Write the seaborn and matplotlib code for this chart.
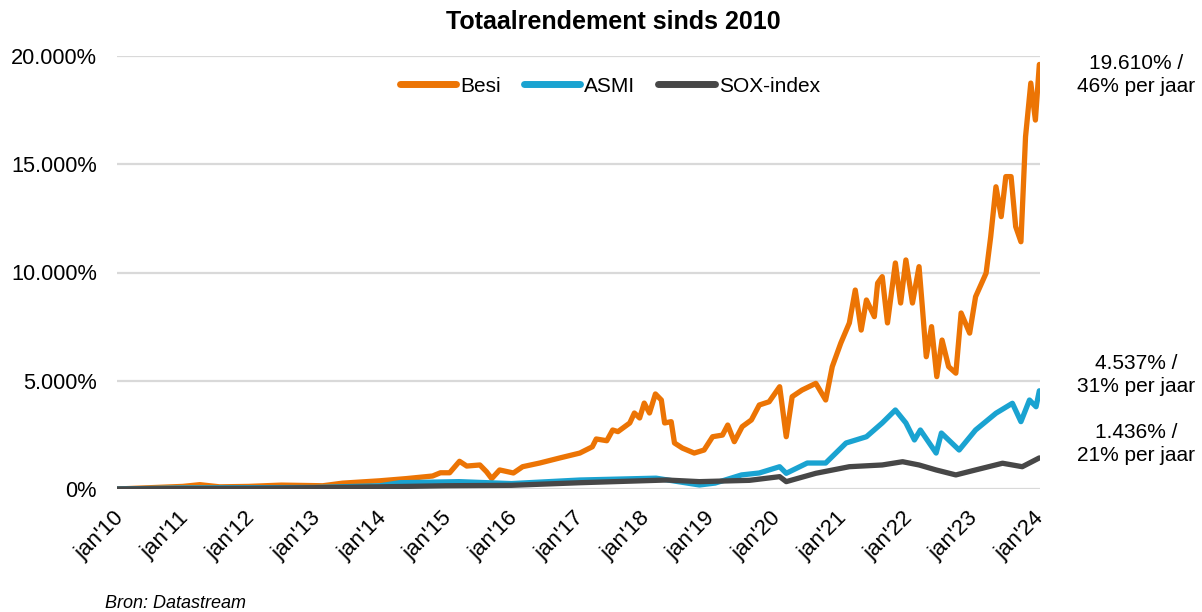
import pandas as pd
import matplotlib.pyplot as plt
import matplotlib.ticker as mticker
import matplotlib.transforms as mtransforms
import seaborn as sns

# Values (decimal year, total return in %)
besi_years = [2010.00, 2010.50, 2011.00, 2011.26, 2011.56, 2012.00, 2012.50, 2013.13, 2013.43, 2014.00,
              2014.40, 2014.80, 2014.92, 2015.06, 2015.21, 2015.32, 2015.52, 2015.62, 2015.70, 2015.82,
              2016.03, 2016.17, 2016.43, 2016.73, 2017.04, 2017.23, 2017.29, 2017.45, 2017.54, 2017.62,
              2017.80, 2017.87, 2017.95, 2018.02, 2018.10, 2018.19, 2018.28, 2018.33, 2018.43, 2018.48,
              2018.60, 2018.78, 2018.93, 2019.06, 2019.21, 2019.29, 2019.39, 2019.51, 2019.65, 2019.77,
              2019.92, 2020.08, 2020.18, 2020.27, 2020.42, 2020.63, 2020.78, 2020.88, 2021.01, 2021.14,
              2021.23, 2021.32, 2021.40, 2021.52, 2021.57, 2021.64, 2021.72, 2021.84, 2021.92, 2022.00,
              2022.10, 2022.20, 2022.25, 2022.31, 2022.39, 2022.47, 2022.55, 2022.65, 2022.76, 2022.84,
              2022.97, 2023.06, 2023.22, 2023.29, 2023.37, 2023.45, 2023.52, 2023.60, 2023.67, 2023.75,
              2023.82, 2023.90, 2023.97, 2024.03]
besi_values = [0, 60, 120, 200, 100, 120, 180, 150, 270, 380,
               480, 600, 750, 750, 1280, 1060, 1110, 800, 480, 880,
               740, 1030, 1200, 1430, 1660, 1950, 2310, 2230, 2725, 2650,
               3050, 3510, 3280, 3970, 3510, 4390, 4110, 3050, 3110, 2125,
               1890, 1660, 1800, 2415, 2490, 2955, 2185, 2880, 3190, 3880,
               4030, 4725, 2415, 4265, 4570, 4880, 4110, 5650, 6740, 7670,
               9190, 7340, 8730, 7960, 9510, 9810, 7670, 10440, 8590, 10580,
               8590, 10270, 8420, 6110, 7500, 5190, 6880, 5650, 5350, 8130,
               7200, 8880, 9970, 11650, 13960, 12580, 14430, 14430, 12120, 11420,
               16270, 18750, 17040, 19610]

asmi_years = [2010.00, 2011.00, 2012.00, 2013.00, 2014.00, 2014.30, 2015.20, 2016.00, 2017.04, 2018.20,
              2018.86, 2019.10, 2019.50, 2019.77, 2020.08, 2020.18, 2020.50, 2020.78, 2021.09, 2021.40,
              2021.64, 2021.84, 2022.00, 2022.13, 2022.22, 2022.46, 2022.54, 2022.81, 2023.06, 2023.37,
              2023.62, 2023.75, 2023.88, 2023.98, 2024.03]
asmi_values = [0, 50, 60, 70, 150, 290, 340, 250, 415, 500,
               185, 275, 650, 740, 1030, 725, 1200, 1200, 2125, 2415,
               3050, 3650, 3050, 2265, 2725, 1660, 2585, 1800, 2725, 3500,
               3960, 3110, 4110, 3800, 4537]

sox_years = [2010.00, 2011.00, 2012.00, 2013.00, 2014.00, 2015.00, 2016.00, 2017.04, 2018.36, 2018.86,
             2019.62, 2020.08, 2020.18, 2020.63, 2021.14, 2021.64, 2021.95, 2022.20, 2022.46, 2022.76,
             2023.06, 2023.47, 2023.77, 2024.03]
sox_values = [0, 20, 30, 60, 100, 150, 170, 290, 415, 340,
              400, 570, 340, 725, 1030, 1110, 1260, 1110, 880, 650,
              880, 1190, 1030, 1436]

series_names = ["Besi", "ASMI", "SOX-index"]
tick_years = list(range(2010, 2025))
tick_labels = [f"jan'{y % 100:02d}" for y in tick_years]
end_labels = ["19.610% /\n46% per jaar", "4.537% /\n31% per jaar", "1.436% /\n21% per jaar"]


def to_date(y):
    return pd.Timestamp("2010-01-01") + pd.Timedelta(days=(y - 2010) * 365.25)


frames = []
for name, yrs, vals in zip(series_names, [besi_years, asmi_years, sox_years],
                           [besi_values, asmi_values, sox_values]):
    frames.append(pd.DataFrame({"Datum": [to_date(y) for y in yrs], "Rendement": vals, "Reeks": name}))
data = pd.concat(frames, ignore_index=True)

sns.set_theme(style="white")
plt.rcParams["font.family"] = ["Liberation Sans", "DejaVu Sans"]
plt.rcParams["text.color"] = "black"

palette = {"Besi": "#EC7404", "ASMI": "#1AA3D1", "SOX-index": "#474747"}

fig = plt.figure(figsize=(12.02, 6.12), dpi=100)
ax = fig.add_axes([117 / 1202, 1 - 489 / 612, (1040 - 117) / 1202, (489 - 56) / 612])

# SOX is drawn last, so it lies on top like in the original
sns.lineplot(data=data, x="Datum", y="Rendement", hue="Reeks", hue_order=series_names,
             palette=palette, linewidth=3.8, ax=ax, legend=True)
for line in ax.get_lines():
    line.set_solid_capstyle("round")
    line.set_solid_joinstyle("round")

ax.set_xlim(to_date(2010.0), to_date(2024.04))
ax.set_ylim(0, 20000)
ax.set_yticks([0, 5000, 10000, 15000, 20000])
ax.yaxis.set_major_formatter(mticker.FuncFormatter(lambda v, p: f"{int(v):,}".replace(",", ".") + "%"))
ax.set_xticks([to_date(y) for y in tick_years])
ax.set_xticklabels(tick_labels, rotation=45, ha="right", rotation_mode="anchor")
ax.tick_params(axis="both", length=0, colors="black")
ax.tick_params(axis="x", labelsize=16, pad=13)
ax.tick_params(axis="y", labelsize=15.7, pad=14.4)
shift = mtransforms.ScaledTranslation(-4 / 100, 0, fig.dpi_scale_trans)
for lbl in ax.get_xticklabels():
    lbl.set_transform(lbl.get_transform() + shift)
ax.set_xlabel("")
ax.set_ylabel("")
ax.grid(axis="y", color="#D9D9D9", linewidth=1.6)
ax.set_axisbelow(True)
for s in ax.spines.values():
    s.set_visible(False)

handles, labels = ax.get_legend_handles_labels()
for h in handles:
    h.set_linewidth(5)
    h.set_solid_capstyle("round")
ax.legend(handles, labels, loc="center", bbox_to_anchor=(610 / 1202, 1 - 86 / 612),
          bbox_transform=fig.transFigure, ncol=3, frameon=False, fontsize=15,
          handlelength=2.7, handletextpad=0.2, columnspacing=1.1)

fig.text(613 / 1202, 1 - 22 / 612, "Totaalrendement sinds 2010", ha="center", va="center",
         fontsize=18, fontweight="bold")
for txt, ypix in zip(end_labels, [75, 375, 444]):
    fig.text(1136 / 1202, 1 - ypix / 612, txt, ha="center", va="center", fontsize=15, linespacing=1.25)
fig.text(105 / 1202, 1 - 603 / 612, "Bron: Datastream", ha="left", va="center", fontsize=13,
         style="italic")

plt.savefig("out.png", dpi=100)
